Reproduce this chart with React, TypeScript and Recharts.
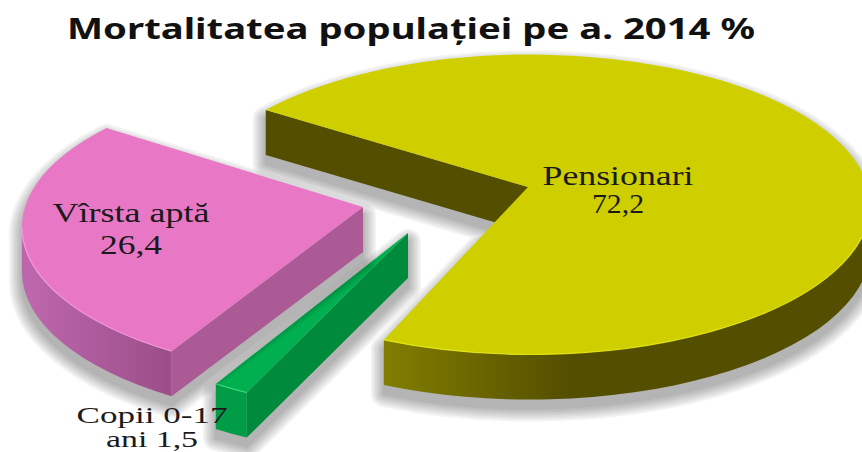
import React from 'react';
import { PieChart, Pie } from 'recharts';

const TITLE = 'Mortalitatea populației pe a. 2014 %';
const categories = ['Pensionari', 'Copii 0-17 ani', 'Vîrsta aptă'];
const values = [72.2, 1.5, 26.4];
const labelFirstLines = ['Pensionari', 'Copii  0-17', 'Vîrsta aptă'];
const labelValuePrefix = ['', 'ani ', ''];

const WIDTH = 862;
const HEIGHT = 452;
const PIE_R = 150;
const RX = 340;
const DEPTH = 45;
const SHADOW_WIDTHS = [26, 22, 18, 14, 10, 6, 2];

// Visual placement of each exploded slice (perspective look of the original)
const sliceStyles = [
  { xc: 530, yc: 204.5, ax: 528, ay: 187, trimS: -1, trimE: 2.2, top: '#cfcf00', cut: '#544e00', wall: 'url(#wallY)', hi: '#eeee10', fs: 27, lbl: [618, 185, 213, 151, 52] },
  { xc: 414, yc: 262, ax: 408, ay: 233, trimS: -1.8, trimE: -2.6, top: '#00b050', cut: '#008a3c', wall: '#009c46', hi: '#40e080', fs: 23, lbl: [152, 423, 447, 151, 92] },
  { xc: 362, yc: 227, ax: 363, ay: 207, trimS: -1, trimE: -3.3, top: '#e878c6', cut: '#ab5a96', wall: 'url(#wallP)', hi: '#ffa0e6', fs: 27, lbl: [131, 222, 254, 157, 62] },
];

const chartData = categories.map((name, i) => ({ name, value: values[i] }));

function Slice3D(props: any) {
  const { startAngle, endAngle, name, outerRadius } = props;
  const i = categories.indexOf(name);
  const s = sliceStyles[i];
  if (!s) return null;
  const ry = outerRadius;
  const start = startAngle + s.trimS;
  const end = endAngle + s.trimE;
  const P = (a: number, d = 0) => {
    const r = (a * Math.PI) / 180;
    return `${(s.xc + RX * Math.cos(r)).toFixed(2)} ${(s.yc - ry * Math.sin(r) + d).toFixed(2)}`;
  };
  const large = start - end > 180 ? 1 : 0;
  const top = `M${s.ax} ${s.ay} L${P(start)} A${RX} ${ry} 0 ${large} 1 ${P(end)} Z`;
  const cut = `M${s.ax} ${s.ay} L${P(start)} L${P(start, DEPTH)} L${s.ax} ${s.ay + DEPTH} Z`;
  const w1 = Math.min(start, 0);
  const w2 = Math.max(end, -180);
  const wall = `M${P(w1)} A${RX} ${ry} 0 0 1 ${P(w2)} L${P(w2, DEPTH)} A${RX} ${ry} 0 0 0 ${P(w1, DEPTH)} Z`;
  const hi = `M${P(w1)} A${RX} ${ry} 0 0 1 ${P(w2)}`;
  return (
    <g>
      {SHADOW_WIDTHS.map((sw) => (
        <g key={sw} transform="translate(0 9)" opacity={0.045} fill="#000" stroke="#000" strokeWidth={sw} strokeLinejoin="round">
          <path d={cut} />
          <path d={wall} />
          <path d={top} />
        </g>
      ))}
      <path d={cut} fill={s.cut} />
      <path d={wall} fill={s.wall} />
      <path d={top} fill={s.top} />
      <path d={hi} fill="none" stroke={s.hi} strokeWidth={1.2} strokeOpacity={0.8} />
    </g>
  );
}

function renderLabel(props: any) {
  const i = categories.indexOf(props.name);
  const s = sliceStyles[i];
  if (!s) return null;
  const [x, y1, y2, w1, w2] = s.lbl;
  const common = {
    x,
    textAnchor: 'middle' as const,
    fontFamily: '"Liberation Serif", serif',
    fontSize: s.fs,
    fill: '#1a1a1a',
    lengthAdjust: 'spacingAndGlyphs' as const,
  };
  return (
    <g>
      <text {...common} y={y1} textLength={w1}>{labelFirstLines[i]}</text>
      <text {...common} y={y2} textLength={w2}>
        {labelValuePrefix[i] + String(values[i]).replace('.', ',')}
      </text>
    </g>
  );
}

export default function App() {
  return (
    <div style={{ position: 'absolute', left: 0, top: 0, width: WIDTH, height: HEIGHT, overflow: 'hidden', background: '#fff' }}>
      <PieChart width={WIDTH} height={HEIGHT} margin={{ top: 0, right: 0, bottom: 0, left: 0 }}>
        <defs>
          <linearGradient id="wallY" gradientUnits="userSpaceOnUse" x1="383" y1="0" x2="570" y2="0">
            <stop offset="0" stopColor="#827e00" />
            <stop offset="1" stopColor="#544e00" />
          </linearGradient>
          <linearGradient id="wallP" gradientUnits="userSpaceOnUse" x1="30" y1="0" x2="172" y2="0">
            <stop offset="0" stopColor="#bd66ad" />
            <stop offset="1" stopColor="#9a4e87" />
          </linearGradient>
        </defs>
        <text
          x={411}
          y={39}
          textAnchor="middle"
          fontFamily='"Noto Sans", sans-serif'
          fontWeight={700}
          fontSize={29}
          fill="#111"
          textLength={688}
          lengthAdjust="spacingAndGlyphs"
        >
          {TITLE}
        </text>
        <Pie
          data={chartData}
          dataKey="value"
          nameKey="name"
          cx={430}
          cy={226}
          innerRadius={0}
          outerRadius={PIE_R}
          startAngle={142}
          endAngle={-218}
          paddingAngle={0}
          isAnimationActive={false}
          shape={Slice3D}
          label={renderLabel}
          labelLine={false}
        />
      </PieChart>
    </div>
  );
}
